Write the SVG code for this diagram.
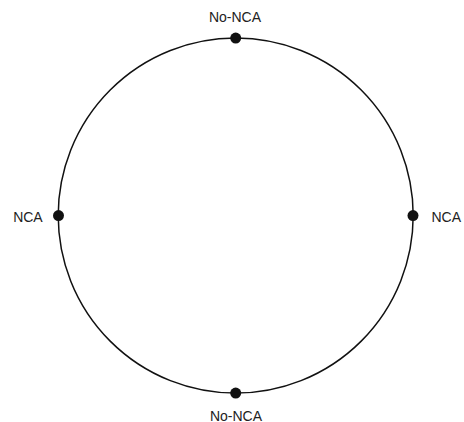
<svg xmlns="http://www.w3.org/2000/svg" width="464" height="422" viewBox="0 0 464 422">
<style>
.lbl{font-family:"Liberation Sans",Arial,sans-serif;font-size:14px;fill:#222}
.dot{fill:#111}
</style>
<rect width="464" height="422" fill="#fff"/>
<g id="connectors">
<circle cx="235.7" cy="215.6" r="177.5" fill="none" stroke="#111" stroke-width="1.5"/>
</g>
<g id="top"><circle class="dot" cx="235.7" cy="38.1" r="5.5"/><text class="lbl" x="235" y="22.3" text-anchor="middle">No-NCA</text></g>
<g id="bottom"><circle class="dot" cx="235.7" cy="393.1" r="5.5"/><text class="lbl" x="236" y="420.5" text-anchor="middle">No-NCA</text></g>
<g id="left"><circle class="dot" cx="58.5" cy="215.6" r="5.5"/><text class="lbl" x="42.7" y="222.3" text-anchor="end">NCA</text></g>
<g id="right"><circle class="dot" cx="413" cy="215.6" r="5.5"/><text class="lbl" x="431.5" y="222.3">NCA</text></g>
</svg>
